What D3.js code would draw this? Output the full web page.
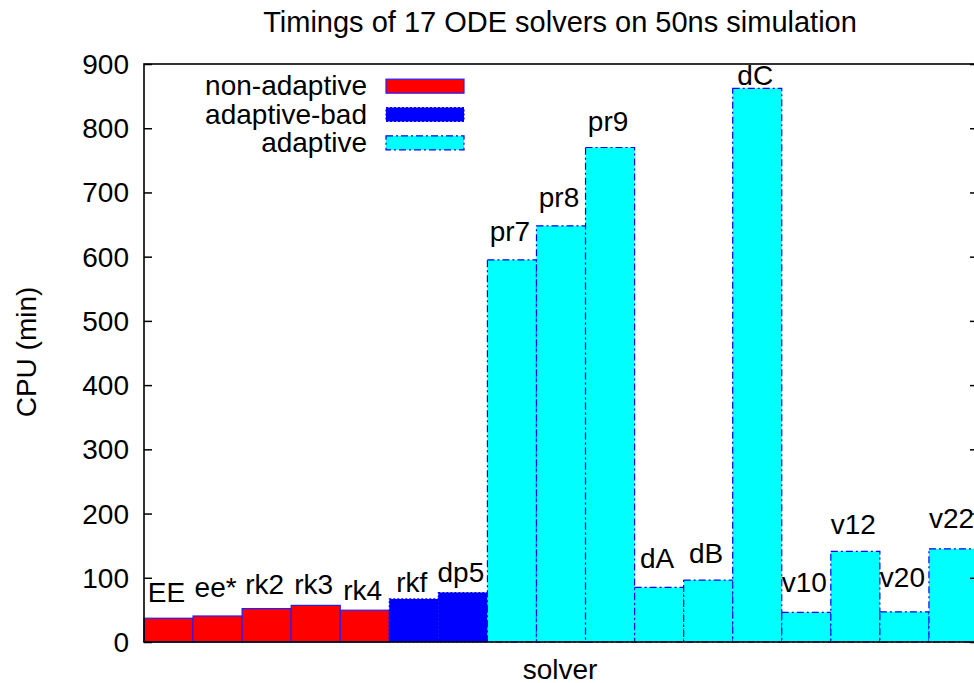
<!DOCTYPE html>
<html>
<head>
<meta charset="utf-8">
<script src="https://cdn.jsdelivr.net/npm/d3@7"></script>
<style>
  html, body { margin: 0; padding: 0; background: #fff; }
  svg { display: block; font-family: "Liberation Sans", Arial, Helvetica, sans-serif; }
</style>
</head>
<body>
<svg id="chart" width="974" height="683"></svg>
<script>
// ---- data ----
const solvers = ["EE","ee*","rk2","rk3","rk4","rkf","dp5","pr7","pr8","pr9","dA","dB","dC","v10","v12","v20","v22"];
const cpuMinutes = [37, 40.5, 52, 57, 49.5, 67, 77, 595, 648, 770, 85, 96.5, 862, 46, 141, 47, 145];
const solverGroup = ["non-adaptive","non-adaptive","non-adaptive","non-adaptive","non-adaptive",
                     "adaptive-bad","adaptive-bad",
                     "adaptive","adaptive","adaptive","adaptive","adaptive","adaptive","adaptive","adaptive","adaptive","adaptive"];
// label baseline heights in data units (as placed in the original)
const labelLevel = [62, 70, 75, 75, 65, 78, 94, 625, 677, 796, 115, 123, 867, 78, 168, 86, 177];
const groups = ["non-adaptive","adaptive-bad","adaptive"];
const yTicks = [0,100,200,300,400,500,600,700,800,900];
const titleText = "Timings of 17 ODE solvers on 50ns simulation";
const xTitle = "solver";
const yTitle = "CPU (min)";

// ---- layout ----
const plot = {left: 144, right: 978, top: 64, bottom: 642};
const FS = 28;

const svg = d3.select("#chart");

const x = d3.scaleBand().domain(solvers).range([plot.left, plot.right]).padding(0);
const y = d3.scaleLinear().domain([0, 900]).range([plot.bottom, plot.top]);

const styleOf = {
  "non-adaptive": {fill: "#ff0000", stroke: "#2020ff", dash: null},
  "adaptive-bad": {fill: "#0000ff", stroke: "#0000ff", dash: "2,2"},
  "adaptive":     {fill: "#00ffff", stroke: "#0000ff", dash: "7,3,2,3"}
};

const data = solvers.map((s, i) => ({name: s, v: cpuMinutes[i], g: solverGroup[i], ly: labelLevel[i]}));

// bars
svg.append("g").selectAll("rect").data(data).join("rect")
  .attr("x", d => x(d.name))
  .attr("y", d => y(d.v))
  .attr("width", x.bandwidth())
  .attr("height", d => y(0) - y(d.v))
  .attr("fill", d => styleOf[d.g].fill)
  .attr("stroke", d => styleOf[d.g].stroke)
  .attr("stroke-width", 1.2)
  .attr("stroke-dasharray", d => styleOf[d.g].dash);

// bar labels
svg.append("g").selectAll("text").data(data).join("text")
  .attr("x", d => x(d.name) + x.bandwidth() / 2 - 2)
  .attr("y", d => y(d.ly))
  .attr("text-anchor", "middle")
  .attr("font-size", FS)
  .attr("fill", "#000")
  .text(d => d.name);

// axes: left ticks (inward) and right mirrored ticks (inward)
const yAxisL = d3.axisRight(y).tickValues(yTicks).tickSize(8).tickFormat("");
const gL = svg.append("g").attr("transform", `translate(${plot.left},0)`).call(yAxisL);
gL.select(".domain").remove();
gL.selectAll("line").attr("stroke", "#000").attr("stroke-width", 1.5);

const yAxisR = d3.axisLeft(y).tickValues(yTicks).tickSize(8).tickFormat("");
const gR = svg.append("g").attr("transform", `translate(${plot.right},0)`).call(yAxisR);
gR.select(".domain").remove();
gR.selectAll("line").attr("stroke", "#000").attr("stroke-width", 1.5);

// tick labels
svg.append("g").selectAll("text").data(yTicks).join("text")
  .attr("x", 129)
  .attr("y", d => y(d) + 10)
  .attr("text-anchor", "end")
  .attr("font-size", FS)
  .text(d => d);

// border
svg.append("rect")
  .attr("x", plot.left).attr("y", plot.top)
  .attr("width", plot.right - plot.left).attr("height", plot.bottom - plot.top)
  .attr("fill", "none").attr("stroke", "#000").attr("stroke-width", 1.6);

// titles
svg.append("text").attr("x", 560).attr("y", 32).attr("text-anchor", "middle")
  .attr("font-size", 29).text(titleText);
svg.append("text").attr("x", 560).attr("y", 679).attr("text-anchor", "middle")
  .attr("font-size", FS).text(xTitle);
svg.append("text").attr("transform", "translate(36,352) rotate(-90)").attr("text-anchor", "middle")
  .attr("font-size", FS).text(yTitle);

// legend
const legRow = d3.scaleBand().domain(groups).range([72, 157]);
const leg = svg.append("g").selectAll("g").data(groups).join("g")
  .attr("transform", d => `translate(0,${legRow(d) + legRow.bandwidth() / 2})`);
leg.append("text").attr("x", 367).attr("y", 9).attr("text-anchor", "end")
  .attr("font-size", FS).text(d => d);
leg.append("rect").attr("x", 386).attr("y", -7).attr("width", 78).attr("height", 14)
  .attr("fill", d => styleOf[d].fill)
  .attr("stroke", d => styleOf[d].stroke)
  .attr("stroke-width", 1.2)
  .attr("stroke-dasharray", d => styleOf[d].dash);
</script>
</body>
</html>
